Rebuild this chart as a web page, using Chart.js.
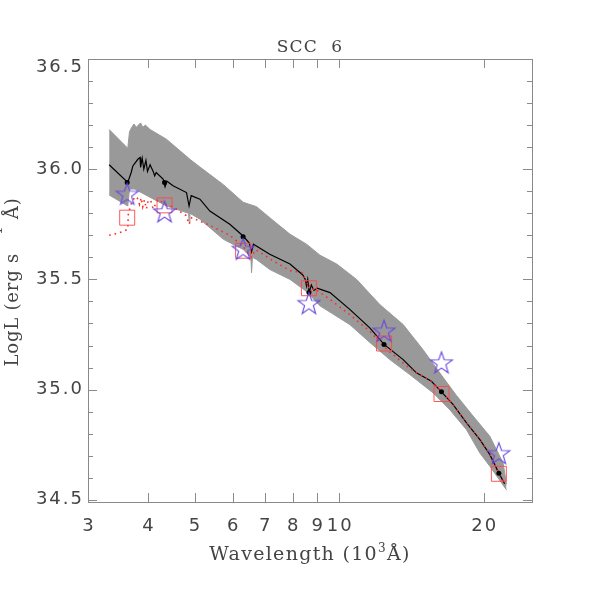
<!DOCTYPE html>
<html>
<head>
<meta charset="utf-8">
<script src="https://cdn.jsdelivr.net/npm/chart.js@4/dist/chart.umd.min.js"></script>
<style>
  html, body { margin: 0; background: #fff; }
</style>
</head>
<body>
<canvas id="chart" width="591" height="591"></canvas>
<script>
// photometry (10^3 A, LogL)
const photWave = [3.62, 4.33, 6.31, 8.65, 12.4, 16.33, 21.5];
const starLum = [35.886, 35.806, 35.636, 35.39, 35.265, 35.121, 34.709];
const squareLum = [35.78, 35.836, 35.63, 35.46, 35.209, 34.98, 34.618];
const dotLum = [35.94, 35.94, 35.694, 35.44, 35.205, 34.99, 34.621];

// best-fit spectrum (black)
const specWave = [3.32, 3.63, 3.69, 3.72, 3.81, 3.85, 3.86, 3.89, 3.92, 3.96, 3.99, 4.04, 4.10, 4.13, 4.16,
  4.30, 4.34, 4.38, 4.51, 4.81, 4.87, 4.92, 5.13, 5.38, 5.92, 6.31, 6.50, 6.57, 6.63, 7.17, 7.90,
  8.40, 8.50, 8.55, 8.60, 8.66, 8.75, 8.86, 9.0, 9.57, 10.52, 11.58, 12.4, 13.59, 14.48, 15.56,
  16.33, 17.27, 18.41, 19.63, 20.59, 21.5, 22.1];
const specLum = [36.02, 35.94, 35.985, 36.015, 36.045, 36.053, 36.008, 36.05, 36.0, 36.04, 35.99, 36.02, 35.99, 35.97, 35.985,
  35.955, 35.92, 35.945, 35.925, 35.894, 35.833, 35.88, 35.864, 35.81, 35.75, 35.697, 35.665, 35.625, 35.66, 35.614, 35.57,
  35.52, 35.50, 35.47, 35.50, 35.44, 35.475, 35.45, 35.46, 35.44, 35.364, 35.28, 35.205, 35.136, 35.076, 35.038,
  34.99, 34.932, 34.849, 34.773, 34.705, 34.621, 34.573];

// second model (red dotted)
const modelWave = [3.32, 3.47, 3.63, 3.64, 3.70, 3.76, 3.80, 3.84, 3.87, 3.90, 3.93, 3.97, 4.00, 4.05, 4.10,
  4.20, 4.34, 4.50, 4.80, 4.87, 4.93, 5.38, 5.92, 6.31, 6.56, 6.70, 7.30, 7.90, 8.40, 8.50, 8.55,
  8.62, 8.66, 8.75, 8.86, 9.57, 10.52, 11.58, 12.35, 13.59, 14.48, 15.56, 16.33, 17.27, 18.41,
  19.63, 20.59, 21.5, 22.1];
const modelLum = [35.70, 35.71, 35.727, 35.80, 35.85, 35.875, 35.87, 35.84, 35.87, 35.83, 35.86, 35.82, 35.855, 35.86, 35.82,
  35.864, 35.84, 35.83, 35.79, 35.75, 35.78, 35.745, 35.70, 35.65, 35.60, 35.635, 35.583, 35.54, 35.53, 35.49, 35.50,
  35.46, 35.48, 35.44, 35.46, 35.409, 35.34, 35.265, 35.197, 35.12, 35.076, 35.038, 34.99, 34.932, 34.849,
  34.773, 34.705, 34.621, 34.573];

// grey range of models
const upperWave = [3.32, 3.63, 3.66, 3.70, 3.74, 3.78, 3.82, 3.86, 3.90, 3.95, 4.04, 4.37, 4.89, 5.13, 5.74,
  6.31, 6.73, 7.17, 7.90, 8.55, 9.12, 9.88, 10.87, 12.15, 13.59, 14.96, 16.46, 17.55, 19.0, 20.59, 21.94, 22.3];
const upperLum = [36.18, 36.095, 36.17, 36.19, 36.205, 36.19, 36.20, 36.21, 36.19, 36.20, 36.18, 36.136, 36.045, 36.01, 35.93,
  35.85, 35.83, 35.78, 35.705, 35.66, 35.61, 35.57, 35.50, 35.386, 35.295, 35.18, 35.055, 34.973, 34.88, 34.788, 34.667, 34.57];
const lowerWave = [3.32, 3.63, 3.66, 3.75, 4.37, 4.86, 4.87, 4.89, 5.13, 5.74, 6.31, 6.55, 6.57, 6.60, 6.73,
  7.17, 7.90, 8.55, 9.12, 10.52, 11.58, 12.75, 14.03, 15.69, 16.99, 18.41, 19.63, 20.59, 22.3];
const lowerLum = [35.883, 35.833, 35.91, 35.91, 35.833, 35.80, 35.76, 35.80, 35.773, 35.682, 35.636, 35.60, 35.53, 35.60, 35.59,
  35.545, 35.50, 35.445, 35.38, 35.295, 35.214, 35.136, 35.068, 34.985, 34.909, 34.818, 34.712, 34.652, 34.545];

const xTickValues = [3, 4, 5, 6, 7, 8, 9, 10, 20];
const xTickLabels = ['3', '4', '5', '6', '7', '8', '9', '10', '20'];
const yTickValues = [34.5, 35.0, 35.5, 36.0, 36.5];
const yTickLabels = ['34.5', '35.0', '35.5', '36.0', '36.5'];

const frameColor = '#8a8a8a';
const textColor = '#444';

function pairs(xs, ys) {
  return xs.map((x, i) => ({ x, y: ys[i] }));
}

function makeStar() {
  const c = document.createElement('canvas');
  c.width = 26; c.height = 26;
  const g = c.getContext('2d');
  g.strokeStyle = '#6a48dc';
  g.lineWidth = 1.1;
  g.beginPath();
  for (let i = 0; i < 10; i++) {
    const r = i % 2 === 0 ? 11.5 : 4.6;
    const ang = -Math.PI / 2 + i * Math.PI / 5;
    const px = 13 + r * Math.cos(ang);
    const py = 13.5 + r * Math.sin(ang);
    if (i === 0) g.moveTo(px, py); else g.lineTo(px, py);
  }
  g.closePath();
  g.stroke();
  return c;
}

function drawPieces(ctx, pieces, x, y) {
  // pieces: [text, font, rise]
  let cx = x;
  pieces.forEach(([t, f, rise]) => {
    ctx.font = f;
    ctx.fillText(t, cx, y - rise);
    cx += ctx.measureText(t).width;
  });
}

function piecesWidth(ctx, pieces) {
  let w = 0;
  pieces.forEach(([t, f]) => { ctx.font = f; w += ctx.measureText(t).width; });
  return w;
}

const axesPlugin = {
  id: 'idlAxes',
  afterDraw(chart) {
    const { ctx, chartArea: a, scales } = chart;
    const xs = scales.x, ys = scales.y;
    ctx.save();
    ctx.strokeStyle = frameColor;
    ctx.lineWidth = 1;
    ctx.strokeRect(a.left + 0.5, a.top + 0.5, a.right - a.left, a.bottom - a.top);

    ctx.beginPath();
    xTickValues.forEach((v) => {
      if (v <= xs.min) return;
      const px = Math.round(xs.getPixelForValue(v)) + 0.5;
      ctx.moveTo(px, a.bottom); ctx.lineTo(px, a.bottom - 9);
      ctx.moveTo(px, a.top); ctx.lineTo(px, a.top + 9);
    });
    for (let k = 345; k <= 365; k++) {
      const v = k / 10;
      const len = k % 5 === 0 ? 9 : 5;
      const py = Math.round(ys.getPixelForValue(v)) + 0.5;
      ctx.moveTo(a.left, py); ctx.lineTo(a.left + len, py);
      ctx.moveTo(a.right, py); ctx.lineTo(a.right - len, py);
    }
    ctx.stroke();

    ctx.fillStyle = textColor;
    ctx.font = '18px "DejaVu Sans"';
    ctx.letterSpacing = '2px';
    ctx.textAlign = 'center';
    ctx.textBaseline = 'middle';
    xTickValues.forEach((v, i) => {
      ctx.fillText(xTickLabels[i], xs.getPixelForValue(v) + 1, 526);
    });
    ctx.textAlign = 'right';
    yTickValues.forEach((v, i) => {
      const py = Math.max(ys.getPixelForValue(v), a.top + 8);
      ctx.fillText(yTickLabels[i], a.left - 4, py);
    });

    // title
    ctx.textAlign = 'center';
    ctx.textBaseline = 'alphabetic';
    ctx.font = '17px "DejaVu Serif"';
    ctx.letterSpacing = '1.2px';
    ctx.fillText('SCC  6', (a.left + a.right) / 2, 52);

    // x title
    ctx.textAlign = 'left';
    ctx.letterSpacing = '1.3px';
    const main = '19px "DejaVu Serif"', sup = '12px "DejaVu Serif"';
    const xPieces = [['Wavelength (10', main, 0], ['3', sup, 8], ['Å)', main, 0]];
    const xw = piecesWidth(ctx, xPieces);
    drawPieces(ctx, xPieces, (a.left + a.right) / 2 - xw / 2, 560);

    // y title
    ctx.save();
    ctx.translate(18, 282);
    ctx.rotate(-Math.PI / 2);
    ctx.letterSpacing = '0.8px';
    const yMain = '18px "DejaVu Serif"', ySup = '13px "DejaVu Serif"';
    const yPieces = [['LogL (erg s ', yMain, 0], ['−1', ySup, 16], [' Å)', yMain, 0]];
    const yw = piecesWidth(ctx, yPieces);
    drawPieces(ctx, yPieces, -yw / 2, 0);
    ctx.restore();

    ctx.restore();
  }
};

const starImg = makeStar();

new Chart(document.getElementById('chart'), {
  type: 'scatter',
  data: {
    datasets: [
      {
        data: pairs(photWave, starLum),
        pointStyle: starImg,
        pointRadius: 12,
      },
      {
        data: pairs(photWave, squareLum),
        pointStyle: 'rect',
        pointRadius: 10.6,
        borderColor: 'rgba(255, 70, 70, 0.9)',
        backgroundColor: 'rgba(0, 0, 0, 0)',
        borderWidth: 1,
      },
      {
        data: pairs(photWave, dotLum),
        pointStyle: 'circle',
        pointRadius: 2.5,
        borderColor: '#000',
        backgroundColor: '#000',
        borderWidth: 0,
      },
      {
        data: pairs(modelWave, modelLum),
        showLine: true,
        pointRadius: 0,
        borderColor: '#ff2a2a',
        borderWidth: 1.6,
        borderDash: [1.6, 4],
      },
      {
        data: pairs(specWave, specLum),
        showLine: true,
        pointRadius: 0,
        borderColor: '#000',
        borderWidth: 1.2,
      },
      {
        data: pairs(upperWave, upperLum),
        showLine: true,
        pointRadius: 0,
        borderColor: '#999',
        borderWidth: 1,
        backgroundColor: '#999',
        fill: '+1',
      },
      {
        data: pairs(lowerWave, lowerLum),
        showLine: true,
        pointRadius: 0,
        borderColor: '#999',
        borderWidth: 1,
      },
    ],
  },
  options: {
    responsive: false,
    animation: false,
    events: [],
    layout: { padding: { left: 0, right: 59, top: 59, bottom: 0 } },
    plugins: { legend: { display: false }, tooltip: { enabled: false } },
    scales: {
      x: {
        type: 'logarithmic',
        min: 3,
        max: 25.2,
        grid: { display: false },
        border: { display: false },
        ticks: { display: false },
        afterFit: (scale) => { scale.height = 89; },
      },
      y: {
        type: 'linear',
        min: 34.49,
        max: 36.5,
        grid: { display: false },
        border: { display: false },
        ticks: { display: false },
        afterFit: (scale) => { scale.width = 88; },
      },
    },
  },
  plugins: [axesPlugin],
});
</script>
</body>
</html>
